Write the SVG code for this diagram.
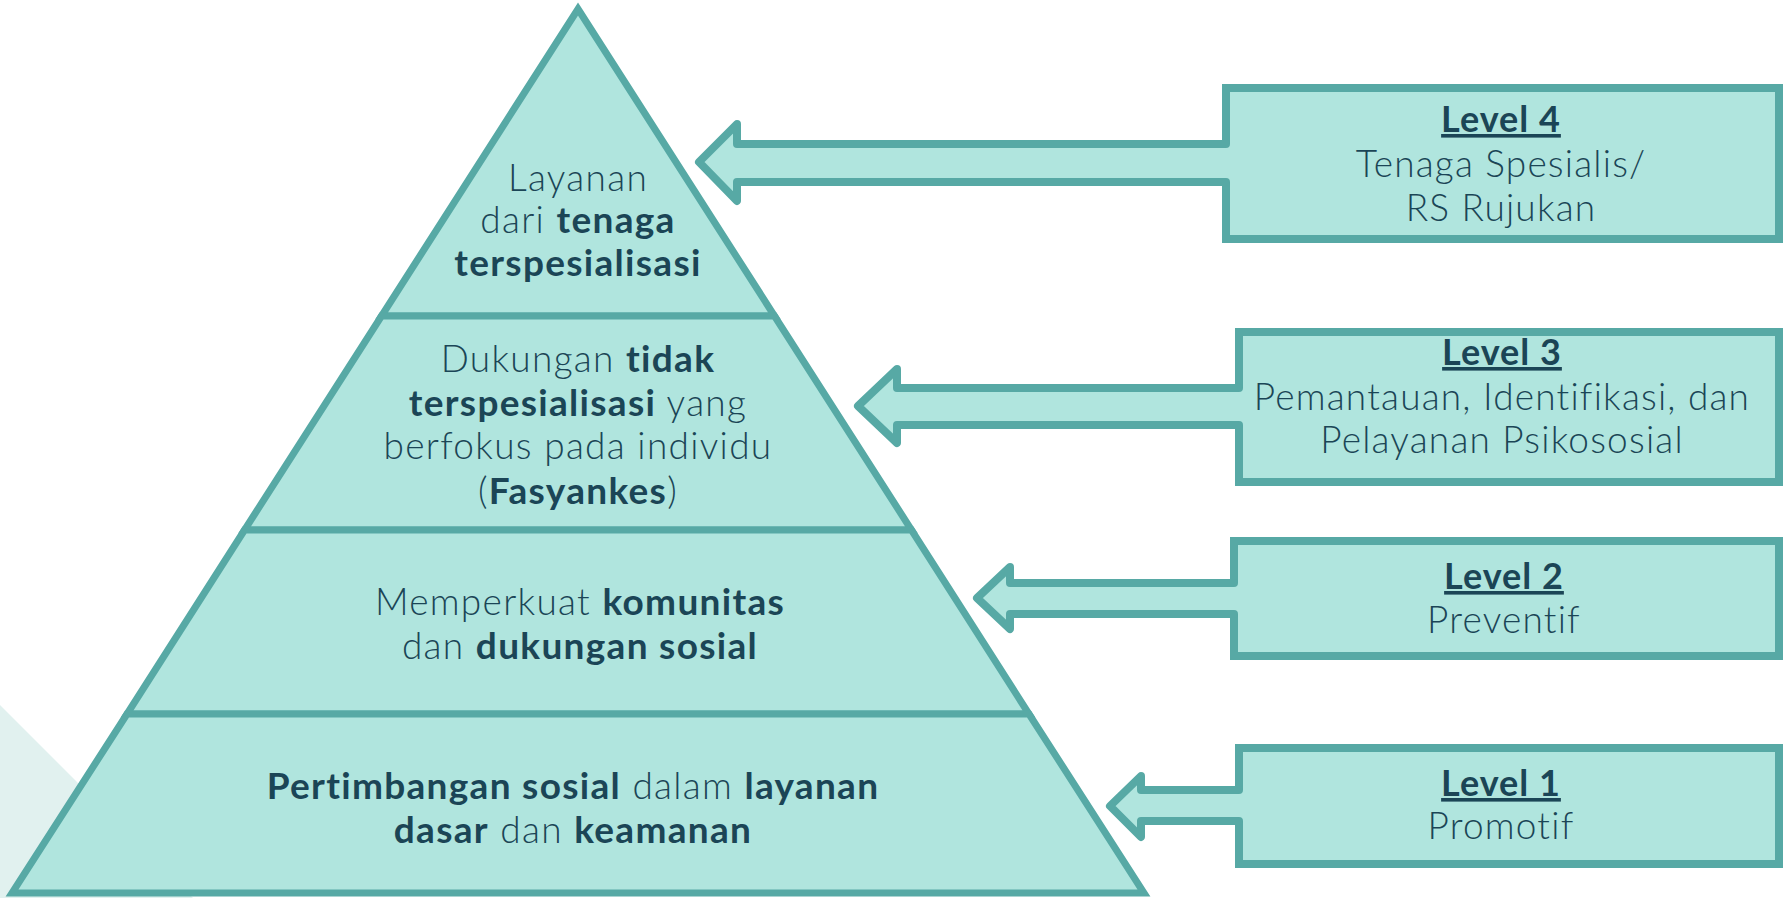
<svg xmlns="http://www.w3.org/2000/svg" width="1783" height="898" viewBox="0 0 1783 898">
<style>
.tier{fill:#b0e5de;stroke:#57a9a5;stroke-width:7;stroke-linejoin:miter;stroke-miterlimit:10}
.box{fill:#b0e5de;stroke:#57a9a5;stroke-width:8}
.afill{fill:#b0e5de;stroke:none}
.aline{fill:none;stroke:#57a9a5;stroke-width:8;stroke-linejoin:round;stroke-linecap:round}
text{font-family:Lato,"Open Sans","Liberation Sans",sans-serif;fill:#1b4556;text-anchor:middle}
.t{font-size:37px;font-weight:300;letter-spacing:1.3px}
.b{font-weight:700}
.lv{font-size:36px;font-weight:700;text-decoration:underline;letter-spacing:1px}
.d{font-size:37px;font-weight:300;letter-spacing:1.2px}
</style>
<rect width="1783" height="898" fill="#ffffff"/>
<polygon points="0,705 193,898 0,898" fill="#e1f1ef"/>
<g id="tier4">
<polygon class="tier" points="578,9 774.5,316 381.5,316"/>
<text class="t" x="578" y="191">Layanan</text>
<text class="t" x="578" y="233">dari <tspan class="b">tenaga</tspan></text>
<text class="t" x="578" y="276"><tspan class="b">terspesialisasi</tspan></text>
</g>
<g id="tier3">
<polygon class="tier" points="381.5,316 774.5,316 911.5,530 244.5,530"/>
<text class="t" x="578" y="372">Dukungan <tspan class="b">tidak</tspan></text>
<text class="t" x="578" y="416"><tspan class="b">terspesialisasi</tspan> yang</text>
<text class="t" x="578" y="459">berfokus pada individu</text>
<text class="t" x="578" y="504">(<tspan class="b">Fasyankes</tspan>)</text>
</g>
<g id="tier2">
<polygon class="tier" points="244.5,530 911.5,530 1029,714 127,714"/>
<text class="t" x="580" y="615">Memperkuat <tspan class="b">komunitas</tspan></text>
<text class="t" x="580" y="659">dan <tspan class="b">dukungan sosial</tspan></text>
</g>
<g id="tier1">
<polygon class="tier" points="127,714 1029,714 1144,893 12,893"/>
<text class="t" x="573" y="799"><tspan class="b">Pertimbangan sosial</tspan> dalam <tspan class="b">layanan</tspan></text>
<text class="t" x="573" y="843"><tspan class="b">dasar</tspan> dan <tspan class="b">keamanan</tspan></text>
</g>
<g id="level4">
<rect class="box" x="1226" y="88" width="553" height="151"/>
<text class="lv" x="1501" y="132">Level 4</text>
<text class="d" x="1501" y="177">Tenaga Spesialis/</text>
<text class="d" x="1501" y="221">RS Rujukan</text>
</g>
<g id="level3">
<rect class="box" x="1239" y="332" width="540" height="150"/>
<text class="lv" x="1502" y="365">Level 3</text>
<text class="d" x="1502" y="410">Pemantauan, Identifikasi, dan</text>
<text class="d" x="1502" y="453">Pelayanan Psikososial</text>
</g>
<g id="level2">
<rect class="box" x="1234" y="541" width="545" height="115"/>
<text class="lv" x="1504" y="589">Level 2</text>
<text class="d" x="1504" y="633">Preventif</text>
</g>
<g id="level1">
<rect class="box" x="1239" y="748" width="540" height="116"/>
<text class="lv" x="1501" y="796">Level 1</text>
<text class="d" x="1501" y="839">Promotif</text>
</g>
<g id="connectors">
<polygon class="afill" points="1232,144 737,144 737,124 699,162 737,201 737,182 1232,182"/>
<path class="aline" d="M1226,144 L737,144 L737,124 L699,162 L737,201 L737,182 L1226,182"/>
<polygon class="afill" points="1245,388 897,388 897,369 858,406 897,443 897,425 1245,425"/>
<path class="aline" d="M1239,388 L897,388 L897,369 L858,406 L897,443 L897,425 L1239,425"/>
<polygon class="afill" points="1240,583 1010,583 1010,567 977,598 1010,629 1010,614 1240,614"/>
<path class="aline" d="M1234,583 L1010,583 L1010,567 L977,598 L1010,629 L1010,614 L1234,614"/>
<polygon class="afill" points="1245,790 1141,790 1141,776 1110,806 1141,837 1141,821 1245,821"/>
<path class="aline" d="M1239,790 L1141,790 L1141,776 L1110,806 L1141,837 L1141,821 L1239,821"/>
</g>
</svg>
